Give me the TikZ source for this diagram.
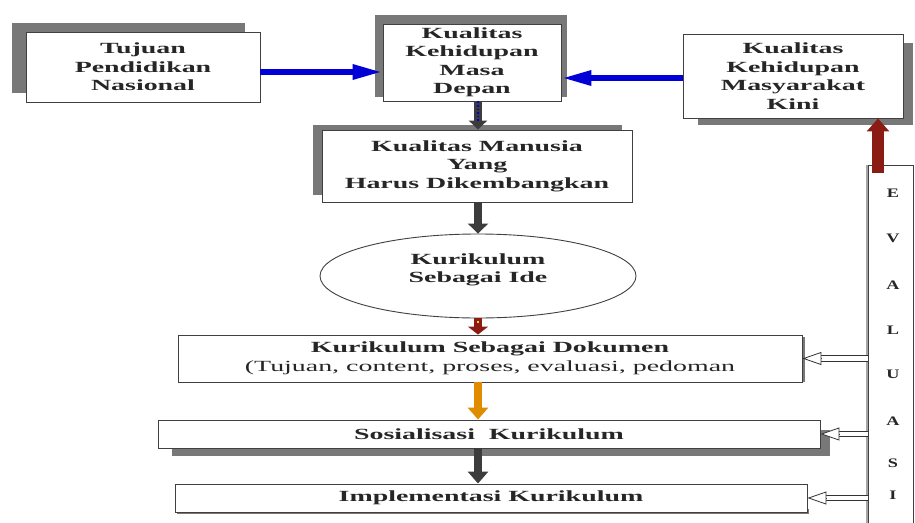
\documentclass[tikz,border=0pt]{standalone}
\usepackage{fontspec}
\setmainfont{Liberation Serif}[FakeStretch=1.8]
\newfontfamily\letterfont{Liberation Serif}[FakeStretch=1.4]
\usetikzlibrary{arrows.meta,shapes.geometric,calc}

\definecolor{flowblue}{RGB}{0,0,215}
\definecolor{flowgray}{RGB}{60,60,60}
\definecolor{flowred}{RGB}{139,28,19}
\definecolor{floworange}{RGB}{224,140,0}
\definecolor{flowyellow}{RGB}{250,210,40}
\definecolor{shadowgray}{RGB}{120,120,120}

\tikzset{
  boxtext/.style={inner sep=0pt, align=center, text=black!85,
    font=\bfseries\fontsize{15.5}{18.5}\selectfont},
  box/.style={boxtext, rectangle, draw=black!75, line width=0.9pt, fill=white},
  idebox/.style={box, ellipse},
  shade/.style={fill=shadowgray},
  evalletter/.style={inner sep=0pt, text=black!85,
    font=\letterfont\bfseries\fontsize{13}{15}\selectfont},
  bluearrow/.style={flowblue, line width=6pt,
    -{Triangle[length=30pt,width=14pt]}},
  blockarrow/.style={line width=8pt,
    -{Triangle[length=#1,width=20pt]}},
  hollowshaft/.style={draw=black!80, double=white, double distance=4.5pt,
    line width=0.8pt, shorten >=19pt},
  hollowhead/.style={draw=black!80, line width=0.8pt,
    -{Triangle[length=19pt,width=13pt,fill=white]}}
}

\begin{document}
\begin{tikzpicture}[x=1pt,y=-1pt]
\useasboundingbox (0,0) rectangle (915,522);

% drop shadows behind the boxes
\fill[shade] (12,23) rectangle (245,93);
\fill[shade] (375,15) rectangle (567,97);
\fill[shade] (313,125) rectangle (622,195);
\fill[shade] (698,43) rectangle (913,125);
\fill[shade] (172,430) rectangle (830,456);
\fill[shade] (798,337) rectangle (805,382);
\fill[shade] (177,509) rectangle (809,514);

% boxes
\node[box, minimum width=234pt, minimum height=70pt] (tujuan) at (143,67)
  {Tujuan\\Pendidikan\\Nasional};
\node[box, minimum width=178pt, minimum height=77pt] (masa) at (472,62.5)
  {Kualitas\\Kehidupan\\Masa\\Depan};
\node[box, minimum width=220pt, minimum height=84pt] (masy) at (793,76)
  {Kualitas\\Kehidupan\\Masyarakat\\Kini};
\node[box, minimum width=310pt, minimum height=72pt] (manusia) at (477,166)
  {Kualitas Manusia\\Yang\\Harus Dikembangkan};
\node[idebox, minimum width=316pt, minimum height=84pt] (idea) at (478,276) {};
\node[boxtext] (ideatext) at (478,270) {Kurikulum\\Sebagai Ide};
\node[box, minimum width=624pt, minimum height=47pt] (dokumen) at (490,358.5)
  {Kurikulum Sebagai Dokumen\\
   \mdseries(Tujuan, content, proses, evaluasi, pedoman};
\node[box, minimum width=662pt, minimum height=28pt] (sosial) at (489,434)
  {Sosialisasi\ \ Kurikulum};
\node[box, minimum width=632pt, minimum height=28pt] (impl) at (491,498)
  {Implementasi Kurikulum};

% evaluation column on the right
\fill[black!35] (866,165) rectangle (871,530);
\node[box, minimum width=45pt, minimum height=370pt] (eval) at (890.5,350) {};
\foreach \ch/\yy [count=\i] in {E/193,V/238,A/285,L/330,U/374,A/421,S/463,I/495}
  \node[evalletter] (letter\i) at (893,\yy) {\ch};

% horizontal blue arrows into the future quality box
\draw[bluearrow] ([yshift=-5pt]tujuan.east) -- ([yshift=-9.5pt]masa.west);
\draw[bluearrow] ([yshift=-2pt]masy.west) -- ([yshift=-15.5pt]masa.east);

% main vertical flow
\draw[flowgray, line width=8pt, -{Triangle[length=9pt,width=18pt]}]
  ([xshift=6pt]masa.south) -- ([xshift=1pt]manusia.north);
\draw[flowblue, line width=1.6pt, dotted, shorten >=9pt]
  ([xshift=6pt]masa.south) -- ([xshift=1pt]manusia.north);
\draw[flowgray, blockarrow=10pt] ([xshift=1pt]manusia.south) -- (idea.north);
\draw[flowred, blockarrow=8pt] (idea.south) -- (idea.south |- dokumen.north);
\draw[flowyellow, line width=2pt, dash pattern=on 2pt off 5pt, shorten >=8pt,
  shorten <=3pt] (idea.south) -- (idea.south |- dokumen.north);
\draw[floworange, blockarrow=12pt] (idea.south |- dokumen.south)
  -- (idea.south |- sosial.north);
\draw[flowgray, blockarrow=12pt] (idea.south |- sosial.south)
  -- (idea.south |- impl.north);

% evaluation feeding back
\draw[flowred, line width=12pt, -{Triangle[length=13pt,width=22pt]}]
  ($(eval.north)+(-12.5,8)$) -- ($(eval.north |- masy.south)+(-12.5,0)$);
\foreach \target in {dokumen,sosial,impl}{
  \draw[hollowshaft] (eval.west |- \target.east) -- (\target.east);
  \draw[hollowhead] ($(\target.east)+(19,0)$) -- (\target.east);
}
\end{tikzpicture}
\end{document}
